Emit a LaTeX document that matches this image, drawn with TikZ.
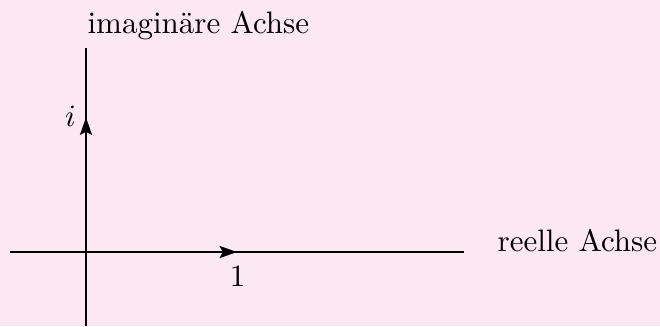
\documentclass[tikz,border=0pt]{standalone}
\usetikzlibrary{arrows.meta}
\definecolor{bgpink}{RGB}{252,232,241}
\begin{document}
\begin{tikzpicture}[x=0.3226pt,y=-0.3226pt,
  axis/.style={line width=0.5pt},
  vec/.style={line width=0.5pt,-{Stealth[length=5.6pt,width=3.9pt,inset=1pt]}},
  lbl/.style={inner sep=0pt}]
\fill[bgpink] (0,0) rectangle (660,326);
\useasboundingbox (0,0) rectangle (660,326);
\coordinate (O) at (86,252);
\coordinate (xl) at (10,252);
\coordinate (xr) at (463.5,252);
\coordinate (yt) at (86,48);
\coordinate (yb) at (86,326);
\coordinate (one) at (237,252);
\coordinate (ii) at (86,117.5);
\draw[axis] (xl) -- (xr);
\draw[axis] (yb) -- (yt);
\draw[vec] (O) -- (one);
\draw[vec] (O) -- (ii);
\node[lbl] (l1) at (237.5,276) {$1$};
\node[lbl] (li) at (70.5,116) {$i$};
\node[lbl,anchor=base west] (re) at (497,251) {reelle Achse};
\node[lbl,anchor=base west] (im) at (87,33.3) {imaginäre Achse};
\end{tikzpicture}
\end{document}
